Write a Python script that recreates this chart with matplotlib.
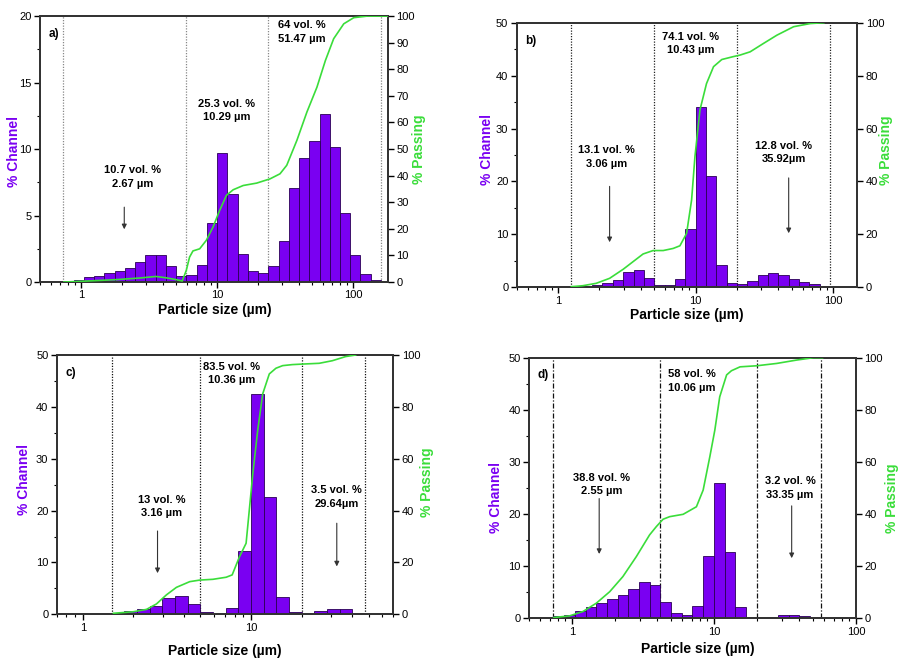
import numpy as np
import matplotlib
matplotlib.use("Agg")
import matplotlib.pyplot as plt
from matplotlib.ticker import MultipleLocator

plt.rcParams['font.family'] = ['Liberation Sans', 'DejaVu Sans']

# channel edges of the analyser (um), shared by all four samples
channel_edges = [0.743, 0.884, 1.051, 1.25, 1.487, 1.768, 2.102, 2.5, 2.973, 3.536,
                 4.204, 5.0, 5.946, 7.071, 8.409, 10.0, 11.89, 14.14, 16.82, 20.0,
                 23.78, 28.28, 33.64, 40.0, 47.57, 56.57, 67.27, 80.0, 95.14, 113.1,
                 134.5, 160.0]

# a)
a_start = 0
a_channel = [0.05, 0.15, 0.35, 0.48, 0.65, 0.83, 1.08, 1.5, 2.05, 2.05, 1.2, 0.48,
             0.53, 1.25, 4.44, 9.67, 6.59, 2.13, 0.85, 0.7, 1.2, 3.08, 7.09, 9.3,
             10.6, 12.6, 10.15, 5.19, 2.0, 0.63, 0.18]
a_pass_x = [0.749, 1.02, 1.80, 2.68, 3.56, 4.22, 5.01, 5.55, 5.94, 6.28, 6.65, 7.45,
            8.34, 9.34, 10.46, 11.72, 13.13, 15.56, 19.53, 24.5, 29.0, 32.5, 38.6,
            45.7, 54.2, 62.5, 71.9, 85.3, 101, 127, 180]
a_pass_y = [0, 0.3, 0.9, 1.5, 2.1, 1.6, 0.9, 0.4, 4.4, 9.4, 11.7, 12.5, 15.7, 20.7,
            27, 32.6, 34.7, 36.3, 37.2, 38.8, 40.7, 43.9, 53.3, 63.9, 73.3, 83.3,
            91.5, 97.1, 99.4, 100, 100]
a_cuts = [0.743, 5.946, 23.78, 160.0]

# b)
b_start = 3
b_channel = [0.15, 0.3, 0.5, 0.85, 1.3, 2.9, 3.3, 1.8, 0.5, 0.35, 1.5, 11.1, 34.1,
             21.0, 4.2, 0.8, 0.6, 1.2, 2.3, 2.8, 2.3, 1.65, 1.05, 0.55, 0.25]
b_pass_x = [1.25, 1.51, 1.89, 2.37, 2.97, 3.51, 4.15, 4.91, 5.81, 6.87, 7.69, 8.60,
            9.35, 9.89, 10.75, 12.0, 13.5, 15.5, 18.8, 21.1, 24.9, 31.2, 39.0, 51.6,
            68.3, 85.5]
b_pass_y = [0.25, 0.6, 1.5, 3.4, 6.8, 9.7, 12.6, 13.9, 13.9, 14.7, 15.7, 20.4, 33,
            49.4, 67, 77, 83.4, 86.1, 87.2, 87.8, 89, 92.2, 95.3, 98.5, 99.7, 100]
b_cuts = [1.25, 5.0, 20.0, 95.14]

# c)
c_start = 4
c_channel = [0.3, 0.6, 1.0, 1.7, 3.2, 3.6, 1.9, 0.4, 0.15, 1.3, 12.2, 42.5, 22.6,
             3.3, 0.4, 0.15, 0.6, 1.1, 1.0, 0.35]
c_pass_x = [1.52, 2.0, 2.39, 2.74, 3.14, 3.60, 4.32, 4.95, 5.93, 7.11, 7.72, 8.53,
            9.34, 10.23, 10.95, 11.72, 12.83, 14.05, 15.4, 17.6, 20.2, 25.4, 30.4,
            36.5, 41.8]
c_pass_y = [0.4, 1, 1.9, 4, 7.5, 10.4, 12.6, 13.2, 13.5, 14.3, 15.2, 22.2, 27.4, 54,
            71, 85, 92.7, 94.9, 95.9, 96.3, 96.5, 96.8, 97.8, 99.4, 100]
c_cuts = [1.487, 5.0, 20.0, 47.57]

# d)
d_start = 0
d_channel = [0.5, 0.7, 1.4, 2.1, 2.9, 3.7, 4.4, 5.7, 7.0, 6.3, 3.2, 1.0, 0.7, 2.3,
             11.9, 26.0, 12.7, 2.1, 0.3, 0.05, 0.2, 0.6, 0.7, 0.5, 0.15]
d_pass_x = [0.746, 0.963, 1.20, 1.49, 1.85, 2.29, 2.85, 3.53, 3.94, 4.39, 4.89, 6.08,
            7.54, 8.41, 9.37, 10.16, 11.0, 12.3, 13.3, 15.3, 20.0, 27.7, 38.3, 50.2,
            58.2]
d_pass_y = [0.3, 0.9, 2.6, 5.8, 10.2, 16, 23.7, 32, 35.2, 38, 39, 39.9, 42.8, 49.2,
            62, 72.2, 85, 93.4, 95, 96.5, 96.9, 97.8, 99.1, 100, 100]
d_cuts = [0.743, 4.204, 20.0, 56.57]

purple = '#7A00F2'
green = '#3ADD3A'
dotted = (0, (1, 1.2))
dashdot = (0, (4, 1.5, 1, 1.5))


def draw(rect, tag, start, channel, px, py, cuts, xlim, ymax, ystep, rstep,
         cutstyle, cutcolor, notes, arrows, lab):
    ax = fig.add_axes(rect)
    edges = np.array(channel_edges[start:start + len(channel) + 1])
    ax.bar(edges[:-1], channel, width=np.diff(edges), align='edge',
           color=purple, edgecolor='#2a0055', linewidth=0.6, zorder=2)
    ax.set_xscale('log')
    ax.set_ylim(0, ymax)
    ax.set_yticks(np.arange(0, ymax + 0.1, ystep))
    ax.yaxis.set_minor_locator(MultipleLocator(ystep / 2))
    ax.set_xticks([1, 10, 100])
    ax.set_xticklabels(['1', '10', '100'])
    ax.set_xlim(xlim)
    for c in cuts:
        ax.axvline(c, color=cutcolor, linestyle=cutstyle, linewidth=0.9, zorder=1)
    ax.tick_params(axis='both', which='major', direction='out', length=4,
                   width=1, labelsize=8, top=False, pad=2)
    ax.tick_params(axis='both', which='minor', direction='out', length=2.5,
                   width=0.8, top=False)
    ax.set_xlabel('Particle size (\u00b5m)', fontsize=10, fontweight='bold')
    ax.set_ylabel('% Channel', fontsize=10, fontweight='bold', color=purple)
    ax.xaxis.set_label_coords(lab[0], lab[1])
    ax.yaxis.set_label_coords(lab[2], lab[3])
    ax.xaxis.label.set_va('center')
    ax.yaxis.label.set_va('center')
    for s in ax.spines.values():
        s.set_linewidth(1.3)
        s.set_color('#333333')
    ax.text(0.025, 0.955, tag, transform=ax.transAxes, fontsize=8.5,
            fontweight='bold', va='top', ha='left')
    for x, y, txt, ha in notes:
        ax.text(x, y, txt, fontsize=8, fontweight='bold', va='top', ha=ha,
                multialignment='center', linespacing=1.45, zorder=4)
    for x, y0, y1 in arrows:
        ax.annotate('', xy=(x, y1), xytext=(x, y0),
                    arrowprops=dict(arrowstyle='-|>', color='#333333', lw=0.8,
                                    mutation_scale=7), zorder=4)

    ax2 = ax.twinx()
    ax2.plot(px, py, color=green, linewidth=1.2, zorder=3)
    ax2.set_ylim(0, 100)
    ax2.set_yticks(np.arange(0, 101, rstep))
    ax2.set_xlim(xlim)
    ax2.tick_params(axis='y', direction='out', length=4, width=1, labelsize=8,
                    pad=2)
    ax2.set_ylabel('% Passing', fontsize=10, fontweight='bold', color=green)
    ax2.yaxis.set_label_coords(lab[4], lab[5])
    ax2.yaxis.label.set_va('center')
    for s in ax2.spines.values():
        s.set_linewidth(1.3)
        s.set_color('#333333')
    return ax


fig = plt.figure(figsize=(8.99, 6.59), dpi=100)

draw([0.0445, 0.572, 0.387, 0.4036], 'a)', a_start, a_channel, a_pass_x, a_pass_y,
     a_cuts, (0.5, 180), 20, 5, 10, dotted, '#888888',
     [(1.48, 8.8, '10.7 vol. %\n2.67 \u00b5m', 'left'),
      (7.24, 13.8, '25.3 vol. %\n10.29 \u00b5m', 'left'),
      (28.2, 19.7, '64 vol. %\n51.47 \u00b5m', 'left')],
     [(2.08, 5.84, 3.76)],
     (0.503, -0.105, -0.075, 0.489, 1.089, 0.5))

draw([0.5747, 0.564, 0.379, 0.4015], 'b)', b_start, b_channel, b_pass_x, b_pass_y,
     b_cuts, (0.5, 150), 50, 10, 20, dotted, '#222222',
     [(9.2, 48.3, '74.1 vol. %\n10.43 \u00b5m', 'center'),
      (2.24, 26.9, '13.1 vol. %\n3.06 \u00b5m', 'center'),
      (43.7, 27.7, '12.8 vol. %\n35.92\u00b5m', 'center')],
     [(2.37, 19.6, 8.0), (47.5, 21.2, 9.7)],
     (0.499, -0.105, -0.086, 0.52, 1.084, 0.52))

draw([0.0631, 0.0678, 0.3744, 0.3935], 'c)', c_start, c_channel, c_pass_x, c_pass_y,
     c_cuts, (0.7, 70), 50, 10, 20, dotted, '#111111',
     [(7.62, 48.7, '83.5 vol. %\n10.36 \u00b5m', 'center'),
      (2.93, 23.1, '13 vol. %\n3.16 \u00b5m', 'center'),
      (32.1, 24.9, '3.5 vol. %\n29.64\u00b5m', 'center')],
     [(2.78, 16.6, 7.4), (32.3, 18.1, 8.7)],
     (0.5, -0.14, -0.097, 0.518, 1.099, 0.511))

draw([0.5884, 0.0618, 0.3637, 0.3954], 'd)', d_start, d_channel, d_pass_x, d_pass_y,
     d_cuts, (0.5, 100), 50, 10, 20, dashdot, '#111111',
     [(6.96, 47.8, '58 vol. %\n10.06 \u00b5m', 'center'),
      (1.63, 27.9, '38.8 vol. %\n2.55 \u00b5m', 'center'),
      (34.4, 27.3, '3.2 vol. %\n33.35 \u00b5m', 'center')],
     [(1.56, 23.5, 11.8), (35.3, 22.1, 11.0)],
     (0.517, -0.118, -0.101, 0.462, 1.11, 0.462))

fig.savefig('out.png', dpi=100)
